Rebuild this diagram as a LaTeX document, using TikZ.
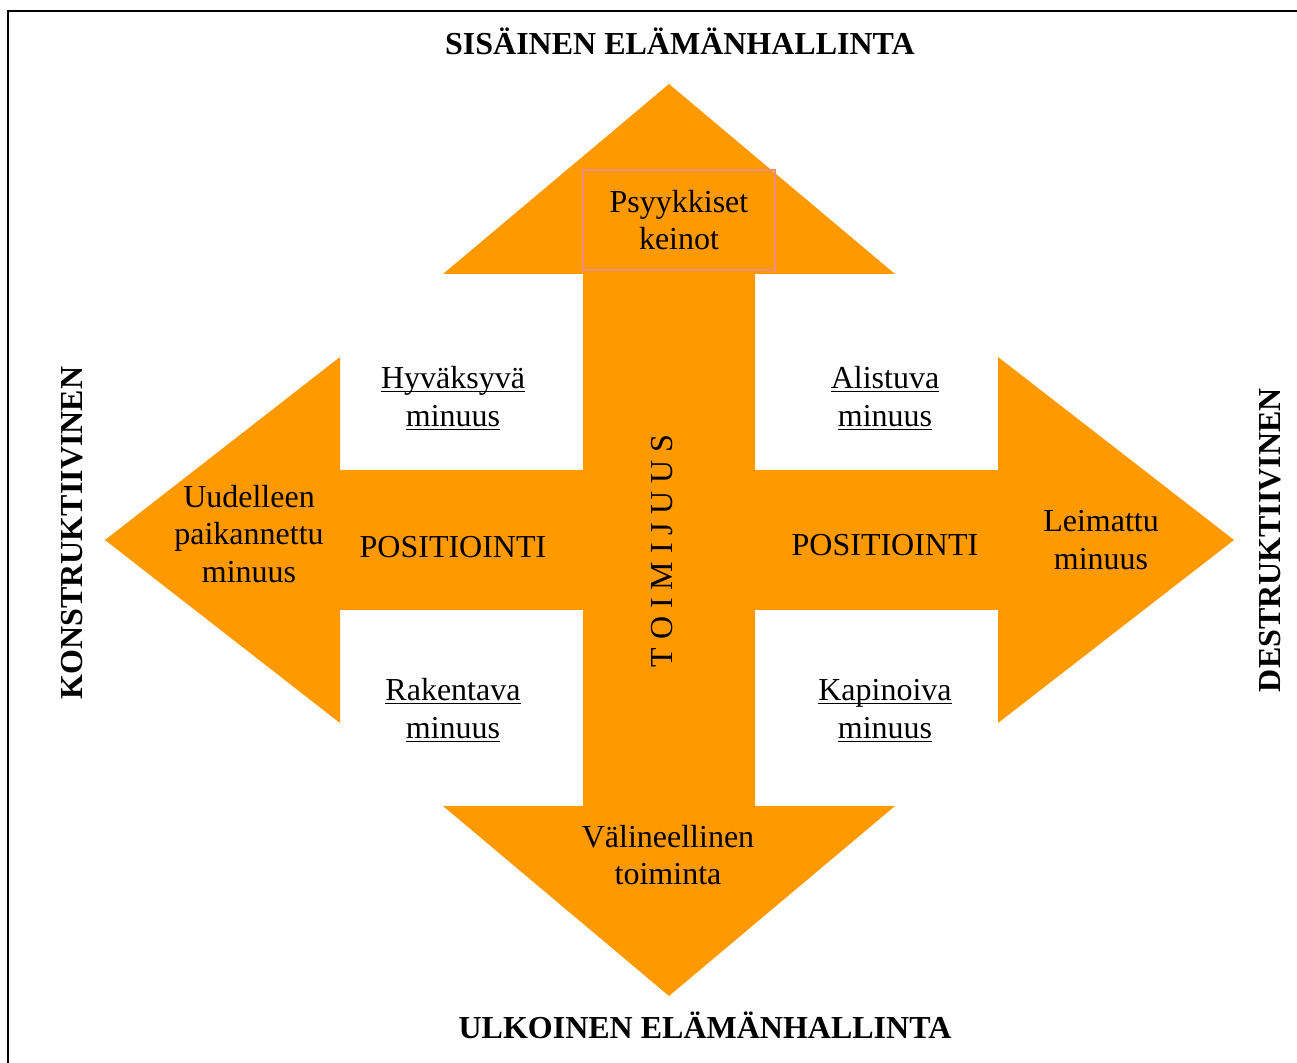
\documentclass[tikz,border=0pt]{standalone}
\usepackage{fontspec}
\setmainfont{Liberation Serif}
\usetikzlibrary{positioning}
\definecolor{crossorange}{RGB}{255,153,0}
\definecolor{keinoline}{RGB}{238,140,125}
\newcommand{\alleviiva}[1]{\underline{\smash{#1}\vphantom{a}}}
\tikzset{
	every node/.style = {font=\fontsize{16}{18.7}\selectfont, align=center},
	otsikko/.style = {font=\fontsize{16}{18.7}\selectfont\bfseries}
}

\begin{document}
\begin{tikzpicture}[x=0.5pt, y=-0.5pt]
		\useasboundingbox (0,0) rectangle (1297,1063);
		% frame
		\draw[line width=1pt] (8,1063) -- (8,11) -- (1297,11);
		% cross of arrows
		\fill[crossorange] (669,84) -- (895,274) -- (755,274) -- (755,470) -- (998,470) -- (998,357)
			-- (1234,540) -- (998,723) -- (998,610) -- (755,610) -- (755,806) -- (895,806)
			-- (669,996) -- (443,806) -- (583,806) -- (583,610) -- (340,610) -- (340,723)
			-- (105,540) -- (340,357) -- (340,470) -- (583,470) -- (583,274) -- (443,274) -- cycle;
		% titles
		\node[otsikko] (sisainen) at (680,41) {SISÄINEN ELÄMÄNHALLINTA};
		\node[otsikko] (ulkoinen) at (705,1025) {ULKOINEN ELÄMÄNHALLINTA};
		\node[otsikko, rotate=90] (konstr) at (72,533) {KONSTRUKTIIVINEN};
		\node[otsikko, rotate=90] (destr) at (1270,540) {DESTRUKTIIVINEN};
		% arrow texts
		\node[draw=keinoline, line width=0.6pt, minimum width=96pt, minimum height=50pt] (keinot) at (679,220) {Psyykkiset\\keinot};
		\node (valineellinen) at (668,855) {Välineellinen\\toiminta};
		\node (uudelleen) at (249,534) {Uudelleen\\paikannettu\\minuus};
		\node (leimattu) at (1101,540) {Leimattu\\minuus};
		\node (posvasen) at (453,547) {POSITIOINTI};
		\node (posoikea) at (885,545) {POSITIOINTI};
		\node[rotate=90] (toimijuus) at (662,551) {T O I M I J U U S};
		% quarters
		\node (hyvaksyva) at (453,402) {\alleviiva{Hyväksyvä}\\\alleviiva{minuus}};
		\node (alistuva) at (885,402) {\alleviiva{Alistuva}\\\alleviiva{minuus}};
		\node (rakentava) at (453,714) {\alleviiva{Rakentava}\\\alleviiva{minuus}};
		\node (kapinoiva) at (885,714) {\alleviiva{Kapinoiva}\\\alleviiva{minuus}};
	\end{tikzpicture}
\end{document}
